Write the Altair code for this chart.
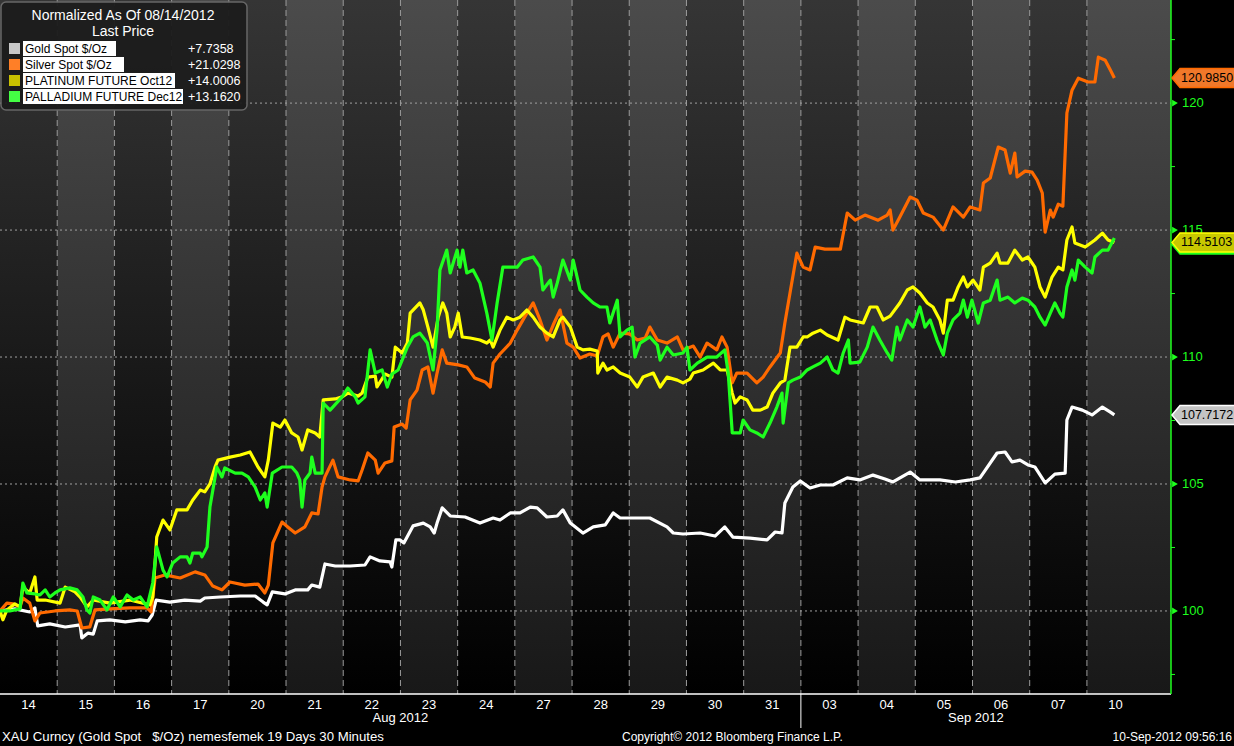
import altair as alt
import pandas as pd

# ---------------- layout constants ----------------
W, H = 1171, 694
X_MAX = 20.47           # plot spans 20.47 trading-day columns
Y_MIN, Y_MAX = 96.73, 124.06
FONT = "Liberation Sans, Arial, sans-serif"

# ---------------- data ----------------
DAY_LABELS = ["14", "15", "16", "17", "20", "21", "22", "23", "24", "27",
              "28", "29", "30", "31", "03", "04", "05", "06", "07", "10"]
MONTHS = ["Aug 2012", "Sep 2012"]
MONTH_CENTERS = [7.0, 17.06]
MONTH_BREAK = 14
Y_GRID = [100, 105, 110, 115, 120]
Y_MINOR = [97.5, 102.5, 107.5, 112.5, 117.5, 122.5]

SERIES = ["Gold Spot $/Oz", "Silver Spot $/Oz", "PLATINUM FUTURE Oct12", "PALLADIUM FUTURE Dec12"]
LINE_COLORS = ["#ffffff", "#ff6a00", "#ffff00", "#1eff1e"]
SWATCH_COLORS = ["#c8c8c8", "#ff7f27", "#c8c000", "#44ff44"]
CHANGES = ["+7.7358", "+21.0298", "+14.0006", "+13.1620"]

# (trading-day position, normalized price)
GOLD = [
    (0.00, 100.00), (0.26, 100.08), (0.52, 99.96), (0.61, 100.12), (0.66, 99.41), (0.87, 99.49),
    (1.14, 99.37), (1.40, 99.45), (1.43, 98.94), (1.54, 99.13), (1.63, 99.09), (1.70, 99.61),
    (1.92, 99.65), (2.19, 99.57), (2.45, 99.65), (2.59, 99.61), (2.66, 99.84), (2.73, 100.43),
    (2.97, 100.35), (3.23, 100.43), (3.50, 100.39), (3.58, 100.51), (3.85, 100.55), (4.20, 100.59),
    (4.46, 100.59), (4.60, 100.35), (4.67, 100.24), (4.76, 100.75), (4.98, 100.67), (5.16, 100.83),
    (5.38, 100.83), (5.45, 101.02), (5.59, 100.94), (5.68, 101.85), (5.86, 101.77), (6.12, 101.77),
    (6.38, 101.81), (6.47, 102.13), (6.64, 101.97), (6.82, 101.93), (6.85, 101.73), (6.92, 102.80),
    (6.99, 102.80), (7.06, 102.68), (7.22, 103.35), (7.40, 103.46), (7.52, 103.31), (7.59, 103.07),
    (7.64, 103.46), (7.73, 104.06), (7.87, 103.74), (8.13, 103.70), (8.39, 103.46), (8.62, 103.66),
    (8.74, 103.58), (8.92, 103.86), (9.09, 103.86), (9.27, 104.09), (9.39, 104.06), (9.56, 103.70),
    (9.74, 103.74), (9.84, 103.98), (9.97, 103.46), (10.19, 103.07), (10.37, 103.31), (10.58, 103.39),
    (10.72, 103.86), (10.84, 103.66), (11.36, 103.66), (11.66, 103.31), (11.77, 103.07), (11.94, 103.03),
    (12.24, 103.07), (12.50, 102.95), (12.67, 103.31), (12.81, 102.91), (13.11, 102.87), (13.41, 102.80),
    (13.55, 103.11), (13.67, 103.07), (13.72, 104.25), (13.86, 104.88), (13.99, 105.12), (14.16, 104.84),
    (14.34, 104.96), (14.56, 104.96), (14.81, 105.24), (15.03, 105.16), (15.26, 105.35), (15.47, 105.20),
    (15.61, 105.08), (15.91, 105.47), (16.08, 105.16), (16.43, 105.16), (16.70, 105.08), (16.96, 105.16),
    (17.13, 105.24), (17.20, 105.47), (17.43, 106.22), (17.57, 106.26), (17.69, 105.87), (17.83, 105.94),
    (17.97, 105.75), (18.09, 105.67), (18.27, 105.04), (18.44, 105.39), (18.62, 105.43), (18.65, 107.52),
    (18.74, 108.03), (18.92, 107.91), (19.09, 107.72), (19.27, 108.03), (19.41, 107.83), (19.48, 107.72),
]

SILVER = [
    (0.00, 100.00), (0.12, 100.31), (0.23, 100.28), (0.35, 100.16), (0.40, 100.51), (0.52, 100.31),
    (0.61, 99.61), (0.70, 99.92), (0.96, 100.00), (1.22, 100.04), (1.35, 100.00), (1.43, 99.33),
    (1.57, 99.37), (1.66, 100.04), (1.92, 100.08), (2.27, 100.12), (2.57, 100.12), (2.64, 99.96),
    (2.71, 101.30), (2.88, 101.42), (3.15, 101.30), (3.41, 101.54), (3.58, 101.42), (3.72, 100.98),
    (3.88, 100.83), (4.02, 101.14), (4.28, 101.02), (4.51, 101.06), (4.63, 100.71), (4.69, 101.02),
    (4.77, 102.68), (4.93, 103.50), (5.03, 103.31), (5.16, 103.07), (5.33, 103.31), (5.45, 103.86),
    (5.56, 103.82), (5.63, 104.88), (5.68, 105.28), (5.82, 105.94), (5.91, 105.28), (6.12, 105.16),
    (6.26, 105.12), (6.33, 105.55), (6.43, 106.22), (6.56, 105.94), (6.61, 105.43), (6.73, 105.83),
    (6.85, 105.91), (6.89, 107.24), (7.03, 107.36), (7.10, 107.20), (7.17, 108.31), (7.29, 108.70),
    (7.38, 109.49), (7.48, 109.61), (7.57, 108.58), (7.64, 109.37), (7.73, 110.28), (7.81, 109.76),
    (8.01, 109.69), (8.16, 109.61), (8.30, 109.17), (8.48, 109.02), (8.57, 108.82), (8.62, 109.76),
    (8.74, 110.12), (8.92, 110.55), (9.04, 111.06), (9.21, 111.73), (9.32, 112.13), (9.44, 111.46),
    (9.56, 110.67), (9.67, 111.26), (9.79, 111.85), (9.91, 110.55), (10.02, 110.39), (10.14, 109.96),
    (10.31, 110.12), (10.44, 110.04), (10.54, 110.79), (10.63, 110.91), (10.72, 110.39), (10.84, 110.94),
    (11.01, 110.91), (11.14, 110.67), (11.28, 110.75), (11.36, 111.18), (11.49, 110.67), (11.66, 110.55),
    (11.84, 110.79), (11.94, 110.28), (12.12, 110.43), (12.24, 110.00), (12.36, 110.55), (12.53, 110.28),
    (12.62, 110.79), (12.71, 110.39), (12.80, 108.98), (12.88, 109.37), (13.06, 109.37), (13.23, 108.98),
    (13.34, 109.21), (13.46, 109.61), (13.64, 110.16), (13.72, 111.34), (13.81, 112.52), (13.93, 114.09),
    (14.04, 113.54), (14.16, 113.43), (14.25, 114.33), (14.42, 114.25), (14.69, 114.25), (14.72, 114.61),
    (14.81, 115.67), (14.95, 115.39), (15.12, 115.59), (15.35, 115.39), (15.51, 115.59), (15.56, 115.79),
    (15.61, 115.00), (15.73, 115.51), (15.91, 116.30), (16.03, 116.18), (16.14, 115.67), (16.31, 115.51),
    (16.49, 115.00), (16.66, 115.91), (16.84, 115.51), (16.96, 115.91), (17.13, 115.79), (17.19, 116.85),
    (17.31, 117.05), (17.45, 118.27), (17.57, 118.15), (17.66, 117.24), (17.74, 118.03), (17.78, 117.09),
    (17.92, 117.32), (18.04, 117.28), (18.13, 116.97), (18.22, 116.46), (18.27, 114.92), (18.36, 115.79),
    (18.41, 115.51), (18.50, 116.02), (18.58, 115.94), (18.65, 119.61), (18.74, 120.51), (18.85, 120.98),
    (19.02, 120.83), (19.14, 120.83), (19.20, 121.81), (19.32, 121.69), (19.41, 121.30), (19.48, 120.99),
]

PLATINUM = [
    (0.00, 100.00), (0.05, 99.65), (0.12, 100.04), (0.26, 100.28), (0.35, 100.16), (0.40, 100.94),
    (0.52, 100.71), (0.61, 101.34), (0.65, 100.43), (0.79, 100.43), (1.05, 100.31), (1.14, 100.94),
    (1.31, 100.75), (1.40, 100.55), (1.52, 100.16), (1.63, 100.43), (1.92, 100.31), (2.27, 100.43),
    (2.62, 100.24), (2.67, 100.55), (2.74, 102.91), (2.85, 103.58), (2.97, 103.19), (3.09, 103.98),
    (3.27, 103.98), (3.37, 104.37), (3.50, 104.76), (3.58, 104.69), (3.67, 105.00), (3.76, 105.67),
    (3.81, 105.94), (4.02, 106.06), (4.20, 106.14), (4.37, 106.26), (4.51, 105.67), (4.63, 105.28),
    (4.69, 105.94), (4.77, 107.40), (4.90, 107.24), (4.98, 107.52), (5.10, 107.01), (5.21, 106.85),
    (5.28, 106.34), (5.38, 107.13), (5.51, 107.01), (5.59, 106.85), (5.65, 108.31), (5.86, 108.35),
    (5.98, 108.43), (6.08, 108.58), (6.26, 108.46), (6.33, 108.58), (6.43, 109.21), (6.56, 109.25),
    (6.59, 108.82), (6.73, 109.33), (6.85, 109.21), (6.91, 110.39), (7.03, 110.16), (7.12, 110.55),
    (7.17, 111.73), (7.34, 112.13), (7.40, 111.85), (7.48, 111.18), (7.57, 110.39), (7.66, 111.57),
    (7.74, 112.13), (7.81, 111.73), (7.87, 110.79), (7.95, 111.18), (8.01, 111.73), (8.08, 110.79),
    (8.22, 110.75), (8.39, 110.67), (8.51, 110.55), (8.57, 110.67), (8.62, 110.39), (8.74, 111.06),
    (8.86, 111.57), (8.97, 111.46), (9.09, 111.57), (9.21, 111.85), (9.32, 111.57), (9.44, 111.18),
    (9.56, 110.94), (9.67, 110.79), (9.79, 111.46), (9.84, 111.57), (9.97, 111.18), (10.09, 110.39),
    (10.19, 110.28), (10.31, 110.31), (10.44, 110.24), (10.45, 109.37), (10.54, 109.76), (10.61, 109.49),
    (10.72, 109.61), (10.84, 109.37), (11.01, 109.21), (11.14, 108.82), (11.24, 109.21), (11.42, 109.37),
    (11.54, 108.82), (11.66, 109.21), (11.84, 109.09), (11.94, 108.98), (12.06, 109.13), (12.12, 109.37),
    (12.29, 109.49), (12.47, 109.76), (12.59, 109.49), (12.71, 109.49), (12.80, 108.58), (12.85, 108.19),
    (12.94, 108.43), (13.06, 108.31), (13.16, 107.91), (13.29, 107.91), (13.41, 108.03), (13.51, 108.58),
    (13.64, 108.98), (13.72, 109.09), (13.81, 110.39), (13.93, 110.39), (14.04, 110.79), (14.11, 110.79),
    (14.21, 110.94), (14.34, 111.06), (14.46, 110.87), (14.65, 110.67), (14.77, 111.57), (14.86, 111.46),
    (15.09, 111.34), (15.21, 111.97), (15.33, 111.97), (15.44, 111.46), (15.56, 111.61), (15.73, 112.13),
    (15.86, 112.64), (15.96, 112.76), (16.08, 112.52), (16.21, 112.13), (16.31, 111.97), (16.43, 111.46),
    (16.49, 110.94), (16.56, 112.24), (16.66, 112.24), (16.75, 112.76), (16.84, 113.15), (16.91, 112.76),
    (17.01, 113.03), (17.13, 112.64), (17.19, 113.54), (17.31, 113.70), (17.43, 114.09), (17.48, 113.70),
    (17.62, 113.70), (17.74, 114.21), (17.87, 113.82), (17.97, 113.94), (18.09, 113.54), (18.18, 112.76),
    (18.27, 112.36), (18.39, 113.15), (18.50, 113.54), (18.58, 113.43), (18.65, 114.61), (18.74, 115.12),
    (18.79, 114.49), (18.97, 114.33), (19.14, 114.61), (19.27, 114.88), (19.37, 114.61), (19.48, 114.51),
]

PALLADIUM = [
    (0.00, 100.00), (0.17, 100.00), (0.35, 100.08), (0.40, 101.10), (0.47, 100.71), (0.61, 100.67),
    (0.70, 100.63), (0.79, 100.83), (0.87, 100.55), (0.96, 100.71), (1.05, 100.83), (1.22, 100.91),
    (1.35, 100.83), (1.45, 100.55), (1.52, 100.04), (1.57, 99.92), (1.63, 100.55), (1.75, 100.43),
    (1.87, 100.04), (1.98, 100.55), (2.10, 100.16), (2.22, 100.63), (2.33, 100.43), (2.45, 100.55),
    (2.57, 100.16), (2.67, 101.10), (2.74, 102.52), (2.85, 101.61), (2.92, 101.34), (3.02, 101.89),
    (3.15, 102.13), (3.27, 102.13), (3.32, 101.89), (3.37, 102.28), (3.50, 102.28), (3.53, 102.13),
    (3.62, 102.52), (3.67, 104.09), (3.79, 105.67), (3.88, 105.28), (3.93, 105.63), (4.11, 105.43),
    (4.23, 105.43), (4.34, 105.28), (4.46, 104.88), (4.55, 104.37), (4.63, 104.65), (4.67, 104.09),
    (4.76, 105.43), (4.93, 105.67), (5.10, 105.67), (5.19, 105.43), (5.24, 105.16), (5.28, 104.09),
    (5.33, 105.16), (5.42, 105.43), (5.45, 106.06), (5.51, 105.43), (5.63, 105.43), (5.65, 108.19),
    (5.77, 107.91), (5.98, 108.43), (6.08, 108.78), (6.21, 108.43), (6.26, 108.19), (6.38, 108.43),
    (6.47, 110.28), (6.56, 109.37), (6.68, 109.49), (6.77, 108.82), (6.85, 109.33), (6.96, 109.49),
    (7.03, 109.88), (7.12, 110.39), (7.22, 110.79), (7.34, 110.94), (7.47, 110.55), (7.57, 109.49),
    (7.64, 111.06), (7.69, 113.43), (7.81, 114.21), (7.87, 113.31), (7.99, 114.21), (8.04, 113.54),
    (8.09, 114.21), (8.16, 113.31), (8.27, 113.43), (8.39, 112.91), (8.51, 111.73), (8.60, 110.67),
    (8.69, 112.13), (8.79, 113.54), (8.92, 113.54), (9.04, 113.54), (9.14, 113.82), (9.32, 113.94),
    (9.44, 113.54), (9.49, 112.64), (9.62, 113.03), (9.67, 112.36), (9.74, 112.91), (9.84, 113.82),
    (9.97, 113.03), (10.02, 113.82), (10.14, 112.64), (10.26, 112.36), (10.37, 112.13), (10.49, 111.97),
    (10.61, 111.97), (10.66, 111.34), (10.79, 112.24), (10.84, 110.79), (10.96, 111.06), (11.05, 111.18),
    (11.10, 110.00), (11.19, 110.55), (11.36, 110.79), (11.49, 110.47), (11.54, 109.88), (11.66, 110.39),
    (11.77, 110.08), (11.94, 110.16), (12.01, 110.39), (12.06, 109.49), (12.19, 109.76), (12.36, 110.00),
    (12.53, 110.00), (12.67, 110.28), (12.73, 109.37), (12.80, 107.01), (12.94, 107.01), (12.99, 107.52),
    (13.11, 107.13), (13.23, 107.01), (13.34, 106.85), (13.46, 107.40), (13.58, 108.03), (13.67, 108.58),
    (13.69, 107.40), (13.78, 108.98), (13.86, 109.09), (13.99, 109.21), (14.11, 109.49), (14.21, 109.61),
    (14.34, 109.76), (14.46, 110.00), (14.56, 109.49), (14.65, 109.37), (14.74, 110.16), (14.83, 110.67),
    (14.86, 109.76), (15.03, 109.80), (15.16, 110.39), (15.26, 111.18), (15.38, 110.67), (15.51, 110.16),
    (15.59, 109.88), (15.68, 111.18), (15.73, 110.67), (15.86, 111.46), (15.96, 111.18), (16.08, 111.97),
    (16.17, 111.18), (16.26, 111.46), (16.38, 110.67), (16.49, 110.08), (16.56, 110.94), (16.66, 111.46),
    (16.78, 111.73), (16.84, 112.24), (16.91, 111.57), (16.99, 112.24), (17.10, 111.34), (17.19, 112.13),
    (17.31, 112.24), (17.43, 113.03), (17.48, 112.24), (17.62, 112.36), (17.74, 112.13), (17.87, 112.32),
    (17.97, 112.24), (18.09, 111.97), (18.18, 111.57), (18.27, 111.26), (18.36, 111.73), (18.44, 112.13),
    (18.53, 111.73), (18.58, 111.57), (18.65, 112.76), (18.74, 113.43), (18.79, 113.03), (18.85, 113.82),
    (18.97, 113.54), (19.09, 113.31), (19.14, 113.94), (19.27, 114.21), (19.37, 114.21), (19.48, 114.69),
]

# last-price tags on the right axis (drawn in this order)
TAG_VALUES = [114.43, 107.7172, 120.9850, 114.5103]
TAG_TEXT = ["", "107.7172", "120.9850", "114.5103"]
TAG_FILL = ["#1eff1e", "#c4c4c4", "#f0782a", "#c8c800"]
TAG_STROKE = ["#1eff1e", "#ffffff", "#ff6a00", "#ffff00"]

# ---------------- scales ----------------
XS = alt.Scale(domain=[0, X_MAX], nice=False, zero=False)
YS = alt.Scale(domain=[Y_MIN, Y_MAX], nice=False, zero=False)
one = pd.DataFrame({"a": [0]})
GREEN = "#1eff1e"

# ---------------- background stripes ----------------
n_days = len(DAY_LABELS)
stripe_df = pd.DataFrame({
    "t0": list(range(n_days)),
    "t1": [i + 1 if i < n_days - 1 else X_MAX for i in range(n_days)],
    "odd": [i % 2 for i in range(n_days)],
})


def grad(top, bottom):
    return alt.Gradient(gradient="linear",
                        stops=[alt.GradientStop(color=top, offset=0),
                               alt.GradientStop(color=bottom, offset=1)],
                        x1=0, x2=0, y1=0, y2=1)


stripes_dark = alt.Chart(stripe_df).transform_filter("datum.odd == 0").mark_rect(
    fill=grad("#353535", "#000000")).encode(
    x=alt.X("t0:Q", scale=XS, axis=None), x2="t1:Q",
    y=alt.value(0), y2=alt.value(H))
stripes_light = alt.Chart(stripe_df).transform_filter("datum.odd == 1").mark_rect(
    fill=grad("#4b4b4b", "#181818")).encode(
    x=alt.X("t0:Q", scale=XS, axis=None), x2="t1:Q",
    y=alt.value(0), y2=alt.value(H))

# ---------------- grid ----------------
vgrid = alt.Chart(pd.DataFrame({"t": list(range(1, n_days))})).mark_rule(
    color="#9c9c9c", strokeDash=[6, 4], strokeWidth=1).encode(
    x=alt.X("t:Q", scale=XS, axis=None), y=alt.value(0), y2=alt.value(H))
hgrid = alt.Chart(pd.DataFrame({"v": Y_GRID})).mark_rule(
    color="#a0a0a0", strokeDash=[2, 3], strokeWidth=1).encode(
    y=alt.Y("v:Q", scale=YS, axis=None), x=alt.value(0), x2=alt.value(W))

# ---------------- axes drawn as marks ----------------
x_domain = alt.Chart(one).mark_rule(color="#ffffff", strokeWidth=1.5).encode(
    x=alt.value(0), x2=alt.value(W), y=alt.value(H))
day_df = pd.DataFrame({"t": [i + 0.5 for i in range(n_days)], "lab": DAY_LABELS})
day_labels = alt.Chart(day_df).mark_text(font=FONT, fontSize=13, color="#ffffff",
                                         baseline="middle").encode(
    x=alt.X("t:Q", scale=XS, axis=None), y=alt.value(H + 11), text="lab:N")

y_domain = alt.Chart(one).mark_rule(color=GREEN, strokeWidth=1.5).encode(
    x=alt.value(W), y=alt.value(0), y2=alt.value(H))
minor_ticks = alt.Chart(pd.DataFrame({"v": Y_MINOR})).mark_rule(color=GREEN, strokeWidth=1).encode(
    y=alt.Y("v:Q", scale=YS, axis=None), x=alt.value(W), x2=alt.value(W + 4))
tri = alt.Chart(pd.DataFrame({"v": Y_GRID})).mark_point(
    shape="triangle-right", filled=True, size=45, color=GREEN, opacity=1).encode(
    y=alt.Y("v:Q", scale=YS, axis=None), x=alt.value(W + 4))
y_labels = alt.Chart(pd.DataFrame({"v": Y_GRID, "lab": [str(v) for v in Y_GRID]})).mark_text(
    font=FONT, fontSize=13, color=GREEN, align="left", baseline="middle").encode(
    y=alt.Y("v:Q", scale=YS, axis=None), x=alt.value(W + 11), text="lab:N")

# ---------------- series lines ----------------
line_layers = []
for name, pts, col in zip(SERIES, [GOLD, SILVER, PLATINUM, PALLADIUM], LINE_COLORS):
    df = pd.DataFrame(pts, columns=["t", "v"])
    df["series"] = name
    line_layers.append(
        alt.Chart(df).mark_line(color=col, strokeWidth=3.2, strokeJoin="round").encode(
            x=alt.X("t:Q", scale=XS, axis=None),
            y=alt.Y("v:Q", scale=YS, axis=None),
            order="t:Q"))

# ---------------- right-hand tags ----------------
tag_df = pd.DataFrame({"v": TAG_VALUES, "txt": TAG_TEXT, "fill": TAG_FILL, "stroke": TAG_STROKE,
                       "k": list(range(len(TAG_VALUES)))})
TAG_PATH = "M -0.8 0 L 0 -0.95 L 8 -0.95 L 8 0.95 L 0 0.95 Z"
tags = alt.Chart(tag_df).mark_point(shape=TAG_PATH, size=400, filled=True, opacity=1,
                                    strokeWidth=1.5).encode(
    y=alt.Y("v:Q", scale=YS, axis=None), x=alt.value(W + 9),
    fill=alt.Fill("fill:N", scale=None), stroke=alt.Stroke("stroke:N", scale=None),
    order="k:Q")
tag_text = alt.Chart(tag_df).transform_filter("datum.txt != ''").mark_text(
    align="left", baseline="middle", font=FONT, fontSize=12.5, color="#000000").encode(
    y=alt.Y("v:Q", scale=YS, axis=None), x=alt.value(W + 10), text="txt:N")

# ---------------- legend box ----------------
LEG_ROW_Y = [48.5, 64.5, 80.5, 96.5]
LEG_BOX_RIGHT = [116, 124, 175, 183]
legend_layers = [
    alt.Chart(one).mark_rect(fill="#1c1c1c", stroke="#6a6a6a", strokeWidth=1.5, cornerRadius=5,
                             opacity=0.95).encode(
        x=alt.value(1), x2=alt.value(247), y=alt.value(2), y2=alt.value(110)),
    alt.Chart(one).mark_text(text="Normalized As Of 08/14/2012", font=FONT, fontSize=14,
                             color="#ffffff", align="center", baseline="middle").encode(
        x=alt.value(123), y=alt.value(16)),
    alt.Chart(one).mark_text(text="Last Price", font=FONT, fontSize=14,
                             color="#ffffff", align="center", baseline="middle").encode(
        x=alt.value(123), y=alt.value(32)),
]
for name, sw, chg, ry, br in zip(SERIES, SWATCH_COLORS, CHANGES, LEG_ROW_Y, LEG_BOX_RIGHT):
    legend_layers += [
        alt.Chart(one).mark_rect(fill=sw).encode(
            x=alt.value(9), x2=alt.value(20), y=alt.value(ry - 5.5), y2=alt.value(ry + 5.5)),
        alt.Chart(one).mark_rect(fill="#ffffff").encode(
            x=alt.value(23), x2=alt.value(br), y=alt.value(ry - 7.5), y2=alt.value(ry + 7.5)),
        alt.Chart(one).mark_text(text=name, font=FONT, fontSize=12, color="#000000",
                                 align="left", baseline="middle").encode(
            x=alt.value(25), y=alt.value(ry + 0.5)),
        alt.Chart(one).mark_text(text=chg, font=FONT, fontSize=12.5, color="#ffffff",
                                 align="left", baseline="middle").encode(
            x=alt.value(188), y=alt.value(ry + 0.5)),
    ]

# ---------------- below the axis ----------------
month_df = pd.DataFrame({"t": MONTH_CENTERS, "m": MONTHS})
months = alt.Chart(month_df).mark_text(font=FONT, fontSize=13, color="#ffffff",
                                       baseline="middle").encode(
    x=alt.X("t:Q", scale=XS, axis=None), y=alt.value(H + 24), text="m:N")
month_sep = alt.Chart(one).mark_rule(color="#ffffff", strokeWidth=1).encode(
    x=alt.datum(MONTH_BREAK, scale=XS), y=alt.value(H), y2=alt.value(H + 34))

FOOTER_LEFT = "XAU Curncy (Gold Spot \u00a0\u00a0$/Oz) nemesfemek 19 Days 30 Minutes"
FOOTER_MID = "Copyright\u00a9 2012 Bloomberg Finance L.P."
FOOTER_RIGHT = "10-Sep-2012 09:56:16"
footers = [
    alt.Chart(one).mark_text(text=FOOTER_LEFT, font=FONT, fontSize=13.2, color="#ffffff",
                             align="left", baseline="middle").encode(
        x=alt.value(2), y=alt.value(H + 43)),
    alt.Chart(one).mark_text(text=FOOTER_MID, font=FONT, fontSize=12, color="#ffffff",
                             align="left", baseline="middle").encode(
        x=alt.value(622), y=alt.value(H + 43)),
    alt.Chart(one).mark_text(text=FOOTER_RIGHT, font=FONT, fontSize=12, color="#ffffff",
                             align="right", baseline="middle").encode(
        x=alt.value(1232), y=alt.value(H + 43)),
]

chart = alt.layer(
    stripes_dark, stripes_light, vgrid, hgrid,
    x_domain, day_labels, y_domain, minor_ticks, y_labels,
    *line_layers,
    tags, tag_text, tri,
    *legend_layers,
    months, month_sep, *footers,
).properties(
    width=W, height=H, background="#000000",
    padding={"left": 0, "top": 0, "right": 63, "bottom": 52},
    autosize=alt.AutoSizeParams(type="none"),
).configure_view(stroke=None)

chart.save("out.html", embed_options={"renderer": "svg", "actions": False})
